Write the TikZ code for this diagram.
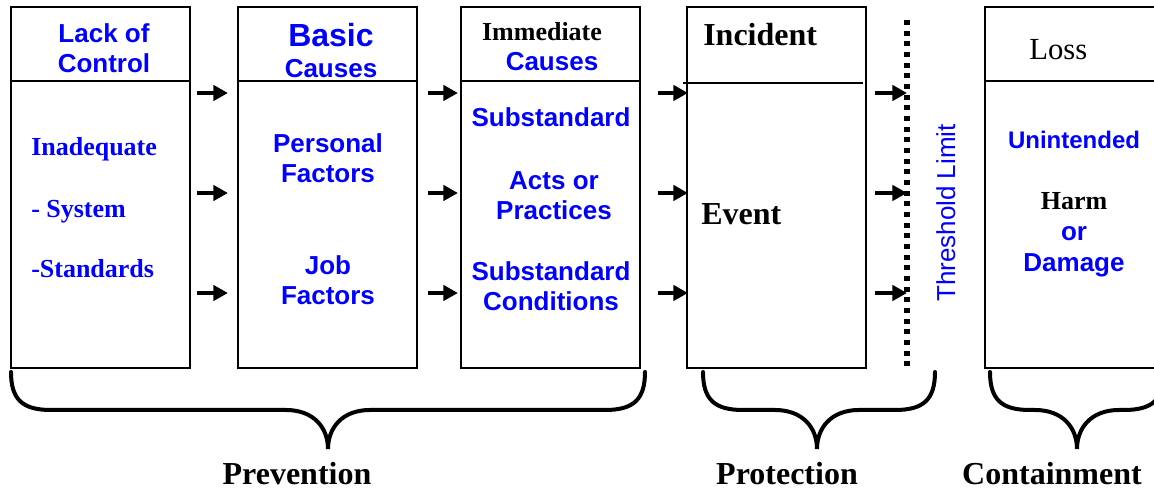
\documentclass[tikz,border=0pt]{standalone}
\usepackage{fontspec}
\setmainfont{Liberation Serif}
\setsansfont{Liberation Sans}
\usetikzlibrary{arrows.meta}
\definecolor{labelBlue}{RGB}{0,0,255}
\newcommand{\stageArrows}[4]{%%
  %% Three arrows between two stages, gaps given in pixels.
  \foreach \rowY in {93,193,293}{%%
    \draw[arrowStyle] ([xshift={#3*0.75pt}]#1.east |- 0,\rowY) --
    ([xshift={-#4*0.75pt}]#2 |- 0,\rowY);
  }
}
\newcommand{\stageBrace}[3]{%%
  %% Curly brace under a group of stages: left end, tip, right end.
  \draw[braceStyle] (#1,372) .. controls (#1,400) and ({#1+12},410) ..
  ({#1+40},410) -- ({#2-42},410) .. controls ({#2-14},410) and (#2,428) ..
  (#2,449) .. controls (#2,428) and ({#2+14},410) .. ({#2+42},410) --
  ({#3-40},410) .. controls ({#3-12},410) and (#3,400) .. (#3,372);
}
\begin{document}
\begin{tikzpicture}[%%
  x=0.75pt,y=-0.75pt,%%
  stageStyle/.style={draw,line width=1.6pt,minimum width=134.25pt,%%
    minimum height=270.75pt,inner sep=0pt},%%
  sansBlue/.style={font=\sffamily\bfseries\fontsize{19.5}{22}\selectfont,%%
    text=labelBlue,anchor=base,inner sep=0pt},%%
  serifBlue/.style={font=\bfseries\fontsize{19.5}{22}\selectfont,%%
    text=labelBlue,anchor=base west,inner sep=0pt},%%
  serifBlack/.style={font=\bfseries\fontsize{19.5}{22}\selectfont,%%
    anchor=base,inner sep=0pt},%%
  groupStyle/.style={font=\bfseries\fontsize{24}{28}\selectfont,%%
    anchor=base,inner sep=0pt},%%
  arrowStyle/.style={line width=3.5pt,-{Triangle[length=11pt,width=11.5pt]}},%%
  limitStyle/.style={line width=4pt,dash pattern=on 3.75pt off 4.25pt},%%
  braceStyle/.style={line width=3pt,line cap=round}%%
]
\useasboundingbox (0,0) rectangle (1154,491);
\clip (0,0) rectangle (1154,491);
%%
%% The five stages.
\node[stageStyle] (lack) at (100.5,187.5) {};
\node[stageStyle] (basic) at (327.5,187.5) {};
\node[stageStyle] (immediate) at (550.5,187.5) {};
\node[stageStyle] (incident) at (776.5,187.5) {};
\node[stageStyle] (loss) at (1074.5,187.5) {};
\foreach \stage in {lack,basic,immediate,loss}
  \draw[line width=1.6pt] (\stage.west |- 0,81) -- (\stage.east |- 0,81);
\draw[line width=1.6pt] ([xshift=-2.25pt]incident.west |- 0,83) --
  ([xshift=-3pt]incident.east |- 0,83);
%%
%% Threshold limit.
\coordinate (limTop) at (907,20);
\coordinate (limBot) at (907,366);
\draw[limitStyle] (limTop) -- (limBot);
\node[sansBlue,font=\sffamily\fontsize{19.5}{22}\selectfont,rotate=90]
  (limit) at (955,213) {Threshold Limit};
%%
%% Stage texts.
\node[sansBlue] (lackA) at (104,43) {Lack of};
\node[sansBlue] (lackB) at (104,73) {Control};
\node[serifBlue] (inadequate) at (31,156) {Inadequate};
\node[serifBlue] (system) at (31,218) {- System};
\node[serifBlue] (standards) at (31,278) {-Standards};
\node[sansBlue,font=\sffamily\bfseries\fontsize{24}{28}\selectfont]
  (basicA) at (331,47) {Basic};
\node[sansBlue] (basicB) at (331,78) {Causes};
\node[sansBlue] (personalA) at (328,153) {Personal};
\node[sansBlue] (personalB) at (328,183) {Factors};
\node[sansBlue] (jobA) at (328,275) {Job};
\node[sansBlue] (jobB) at (328,305) {Factors};
\node[serifBlack] (immediateA) at (542,41) {Immediate};
\node[sansBlue] (immediateB) at (552,71) {Causes};
\node[sansBlue] (actsA) at (551,127) {Substandard};
\node[sansBlue] (actsB) at (554,190) {Acts or};
\node[sansBlue] (actsC) at (554,220) {Practices};
\node[sansBlue] (condA) at (551,281) {Substandard};
\node[sansBlue] (condB) at (551,311) {Conditions};
\node[groupStyle,anchor=base west] (incidentA) at (703,46) {Incident};
\node[groupStyle,anchor=base west] (event) at (701,225) {Event};
\node[groupStyle,anchor=base west,font=\fontsize{23}{27}\selectfont]
  (lossA) at (1029,60) {Loss};
\node[sansBlue,font=\sffamily\bfseries\fontsize{18}{21}\selectfont]
  (unintended) at (1074,149) {Unintended};
\node[serifBlack] (harm) at (1074,210) {Harm};
\node[sansBlue] (harmOr) at (1074,241) {or};
\node[sansBlue] (damage) at (1074,272) {Damage};
%%
%% Arrows between stages.
\stageArrows{lack}{basic.west}{6}{9}
\stageArrows{basic}{immediate.west}{10}{2}
\stageArrows{immediate}{incident.west}{17}{-2}
\stageArrows{incident}{limTop}{8}{0}
%%
%% Braces and group names.
\stageBrace{11}{328}{645}
\stageBrace{703}{817}{935}
\stageBrace{990}{1077}{1164}
\node[groupStyle] (prevention) at (297,485) {Prevention};
\node[groupStyle] (protection) at (787,485) {Protection};
\node[groupStyle] (containment) at (1052,485) {Containment};
\end{tikzpicture}
\end{document}
